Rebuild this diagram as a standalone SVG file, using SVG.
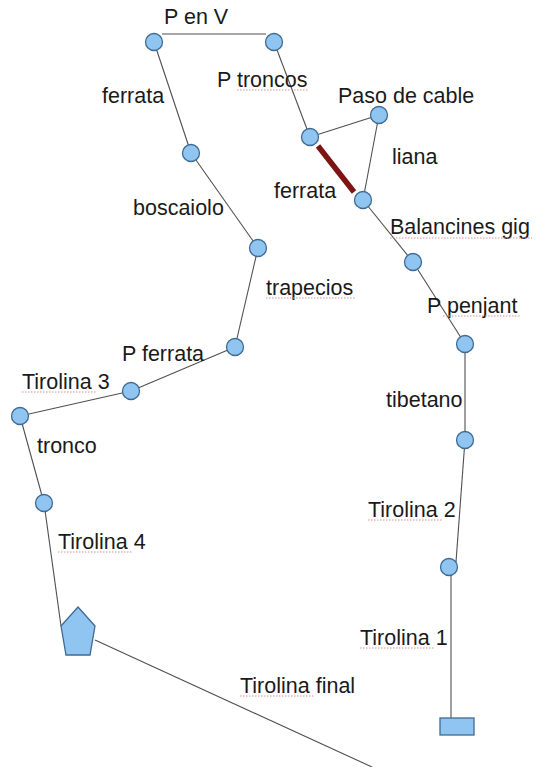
<svg xmlns="http://www.w3.org/2000/svg" width="542" height="767" viewBox="0 0 542 767">
<style>
.bg{fill:#ffffff}
.ln{stroke:#505050;stroke-width:1.1;fill:none}
.red{stroke:#7d1515;stroke-width:5.5;stroke-linecap:butt}
.nd{fill:#8fc5f0;stroke:#3f6a93;stroke-width:1.3}
.t{font-family:"Liberation Sans",Arial,sans-serif;font-size:21.5px;fill:#1a1a1a}
.sq{stroke:#d99090;stroke-width:1;stroke-dasharray:1.5 1.5;fill:none}
</style>
<rect class="bg" x="0" y="0" width="542" height="767"/>
<g id="connectors">
<line class="ln" x1="162" y1="34" x2="266" y2="34"/>
<line class="ln" x1="154" y1="42" x2="191" y2="153"/>
<line class="ln" x1="191" y1="153" x2="258" y2="248"/>
<line class="ln" x1="258" y1="248" x2="235" y2="347"/>
<line class="ln" x1="235" y1="347" x2="131" y2="391"/>
<line class="ln" x1="131" y1="391" x2="20" y2="416"/>
<line class="ln" x1="20" y1="416" x2="44" y2="503"/>
<line class="ln" x1="44" y1="503" x2="61" y2="626"/>
<line class="ln" x1="95" y1="640" x2="372" y2="767"/>
<line class="ln" x1="274" y1="42" x2="310" y2="137"/>
<line class="ln" x1="310" y1="137" x2="379" y2="115"/>
<line class="ln" x1="379" y1="115" x2="363" y2="200"/>
<line class="red" x1="318" y1="146" x2="354" y2="192"/>
<line class="ln" x1="363" y1="200" x2="413" y2="262"/>
<line class="ln" x1="413" y1="262" x2="465" y2="344"/>
<line class="ln" x1="465" y1="344" x2="465" y2="440"/>
<line class="ln" x1="465" y1="440" x2="456" y2="562"/>
<line class="ln" x1="451" y1="570" x2="451" y2="718"/>
</g>
<g id="n-a"><circle class="nd" cx="154" cy="42" r="8.5"/></g>
<g id="n-b"><circle class="nd" cx="274" cy="42" r="8.5"/></g>
<g id="n-c"><circle class="nd" cx="191" cy="153" r="8.5"/></g>
<g id="n-d"><circle class="nd" cx="258" cy="248" r="8.5"/></g>
<g id="n-e"><circle class="nd" cx="235" cy="347" r="8.5"/></g>
<g id="n-f"><circle class="nd" cx="131" cy="391" r="8.5"/></g>
<g id="n-g"><circle class="nd" cx="20" cy="416" r="8.5"/></g>
<g id="n-h"><circle class="nd" cx="44" cy="503" r="8.5"/></g>
<g id="n-pent"><polygon class="nd" points="78,607 95,626 90,655 66,655 61,626"/></g>
<g id="n-i"><circle class="nd" cx="310" cy="137" r="8.5"/></g>
<g id="n-j"><circle class="nd" cx="379" cy="115" r="8.5"/></g>
<g id="n-k"><circle class="nd" cx="363" cy="200" r="8.5"/></g>
<g id="n-l"><circle class="nd" cx="413" cy="262" r="8.5"/></g>
<g id="n-m"><circle class="nd" cx="465" cy="344" r="8.5"/></g>
<g id="n-n"><circle class="nd" cx="465" cy="440" r="8.5"/></g>
<g id="n-o"><circle class="nd" cx="449" cy="567" r="8.5"/></g>
<g id="n-end"><rect class="nd" x="440" y="718" width="34" height="17"/></g>
<g id="labels">
<text class="t" x="164" y="24">P en V</text>
<text class="t" x="102" y="103">ferrata</text>
<text class="t" x="217" y="87">P troncos</text>
<text class="t" x="338" y="103">Paso de cable</text>
<text class="t" x="392" y="164">liana</text>
<text class="t" x="133" y="215">boscaiolo</text>
<text class="t" x="274" y="198">ferrata</text>
<text class="t" x="390" y="234">Balancines gig</text>
<text class="t" x="266" y="295">trapecios</text>
<text class="t" x="427" y="313">P penjant</text>
<text class="t" x="122" y="361">P ferrata</text>
<text class="t" x="22" y="389">Tirolina 3</text>
<text class="t" x="386" y="407">tibetano</text>
<text class="t" x="37" y="453">tronco</text>
<text class="t" x="368" y="517">Tirolina 2</text>
<text class="t" x="58" y="549">Tirolina 4</text>
<text class="t" x="360" y="645">Tirolina 1</text>
<text class="t" x="240" y="693">Tirolina final</text>
</g>
<g id="spellcheck">
<path class="sq" d="M237,90 H308"/>
<path class="sq" d="M390,238 H532"/>
<path class="sq" d="M443,316 H520"/>
<path class="sq" d="M266,298 H356"/>
<path class="sq" d="M22,392 H97"/>
<path class="sq" d="M368,520 H443"/>
<path class="sq" d="M58,552 H133"/>
<path class="sq" d="M360,648 H435"/>
<path class="sq" d="M240,696 H315"/>
</g>
</svg>
